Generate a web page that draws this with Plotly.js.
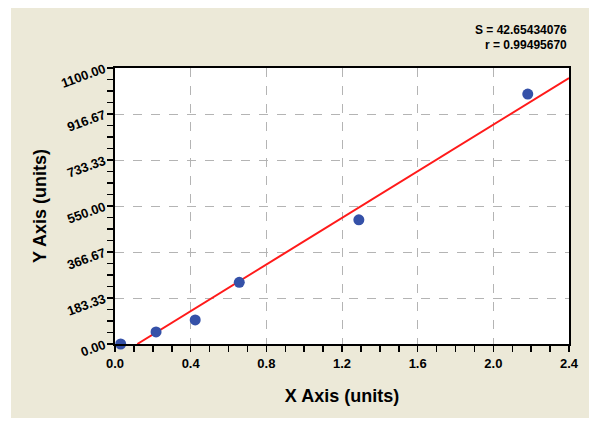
<!DOCTYPE html>
<html>
<head>
<meta charset="utf-8">
<script src="https://cdn.plot.ly/plotly-3.0.1.min.js"></script>
<style>
  html, body { margin: 0; padding: 0; background: #ffffff; width: 600px; height: 428px; overflow: hidden; }
  #chart { position: absolute; left: 11px; top: 8px; width: 578px; height: 410px; }
</style>
</head>
<body>
<div id="chart"></div>
<script>
// Data points
const pointX = [0.03, 0.217, 0.424, 0.657, 1.289, 2.182];
const pointY = [0, 48, 96, 246, 495, 996];

// Fitted line endpoints
const fitX = [0.118, 2.4];
const fitY = [0, 1060];

// Axis ticks
const yTickVals = [0, 183.33, 366.67, 550, 733.33, 916.67, 1100];
const yTickText = ['0.00', '183.33', '366.67', '550.00', '733.33', '916.67', '1100.00'];
const xTickVals = [0, 0.4, 0.8, 1.2, 1.6, 2.0, 2.4];
const xTickText = ['0.0', '0.4', '0.8', '1.2', '1.6', '2.0', '2.4'];

// Statistics
const statS = 'S = 42.65434076';
const statR = 'r = 0.99495670';

const FONT = 'Liberation Sans, Arial, sans-serif';

const traces = [
  {
    x: fitX, y: fitY, type: 'scatter', mode: 'lines',
    line: { color: '#ff1a1a', width: 2 },
    hoverinfo: 'skip', cliponaxis: true
  },
  {
    x: pointX, y: pointY, type: 'scatter', mode: 'markers',
    marker: { color: '#3551a8', size: 11 },
    cliponaxis: false
  }
];

const layout = {
  width: 578, height: 410,
  paper_bgcolor: '#ece9d8',
  plot_bgcolor: '#ffffff',
  showlegend: false,
  margin: { l: 104, r: 20, t: 60, b: 74 },
  xaxis: {
    range: [0, 2.4],
    tickmode: 'array', tickvals: xTickVals, ticktext: xTickText,
    ticks: 'outside', ticklen: 6, tickwidth: 1.5, tickcolor: '#000',
    tickfont: { family: FONT, size: 13, color: '#000', weight: 'bold' },
    showline: true, linecolor: '#000', linewidth: 2, mirror: true,
    showgrid: true, gridcolor: '#b4b4b4', griddash: 'dash', gridwidth: 1,
    zeroline: false,
    minor: { dtick: 0.1, tick0: 0, ticks: 'outside', ticklen: 6, tickwidth: 1.5, tickcolor: '#000', showgrid: false },
    title: { text: 'X Axis (units)', font: { family: FONT, size: 18, color: '#000', weight: 'bold' }, standoff: 20 }
  },
  yaxis: {
    range: [0, 1100],
    tickmode: 'array', tickvals: yTickVals, ticktext: yTickText,
    tickangle: -20,
    ticks: 'outside', ticklen: 6, tickwidth: 1.5, tickcolor: '#000',
    tickfont: { family: FONT, size: 13, color: '#000', weight: 'bold' },
    showline: true, linecolor: '#000', linewidth: 2, mirror: true,
    showgrid: true, gridcolor: '#b4b4b4', griddash: 'dash', gridwidth: 1,
    zeroline: false,
    minor: { dtick: 45.8333, tick0: 0, ticks: 'outside', ticklen: 6, tickwidth: 1.5, tickcolor: '#000', showgrid: false },
    title: { text: 'Y Axis (units)', font: { family: FONT, size: 18, color: '#000', weight: 'bold' }, standoff: 8 }
  },
  annotations: [
    { text: statS, xref: 'paper', yref: 'paper', x: 1, y: 1, xanchor: 'right', yanchor: 'bottom', yshift: 29,
      showarrow: false, font: { family: FONT, size: 12, color: '#000', weight: 'bold' } },
    { text: statR, xref: 'paper', yref: 'paper', x: 1, y: 1, xanchor: 'right', yanchor: 'bottom', yshift: 14,
      showarrow: false, font: { family: FONT, size: 12, color: '#000', weight: 'bold' } }
  ]
};

Plotly.newPlot('chart', traces, layout, { displayModeBar: false, staticPlot: true });
</script>
</body>
</html>
